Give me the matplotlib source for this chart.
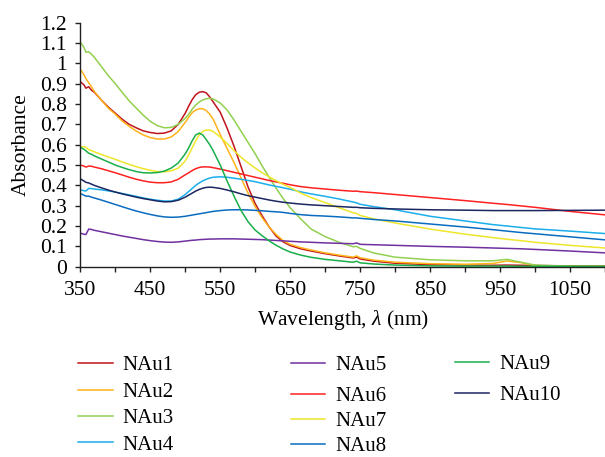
import matplotlib
matplotlib.use("Agg")
import matplotlib.pyplot as plt

plt.rcParams["font.family"] = ["Liberation Serif", "DejaVu Serif"]
plt.rcParams["mathtext.fontset"] = "custom"
plt.rcParams["mathtext.rm"] = "Liberation Serif"
plt.rcParams["mathtext.it"] = "Liberation Serif:italic"

# Wavelength grid (nm)
wavelength = [350, 355, 358, 362, 366, 370, 380, 390, 400, 410, 420, 430, 440, 450,
              460, 470, 480, 490, 500, 505, 510, 515, 520, 525, 530, 535, 540, 550,
              560, 570, 580, 590, 600, 610, 620, 630, 640, 650, 665, 680, 700, 720,
              740, 745, 750, 770, 800, 850, 900, 940, 960, 980, 1000, 1050, 1100]

nau1 = [0.91, 0.895, 0.878, 0.885, 0.868, 0.858, 0.82, 0.785, 0.755, 0.725, 0.70, 0.683,
        0.668, 0.66, 0.655, 0.657, 0.668, 0.70, 0.755, 0.79, 0.822, 0.846, 0.858, 0.861,
        0.855, 0.835, 0.81, 0.76, 0.68, 0.59, 0.49, 0.39, 0.31, 0.25, 0.195, 0.15, 0.122,
        0.104, 0.088, 0.077, 0.064, 0.053, 0.043, 0.047, 0.038, 0.027, 0.017, 0.01, 0.008,
        0.007, 0.008, 0.007, 0.006, 0.004, 0.003]
nau2 = [0.97, 0.945, 0.925, 0.905, 0.885, 0.862, 0.82, 0.78, 0.75, 0.716, 0.69, 0.667,
        0.648, 0.635, 0.628, 0.628, 0.638, 0.665, 0.71, 0.735, 0.758, 0.77, 0.777, 0.777,
        0.768, 0.75, 0.725, 0.65, 0.58, 0.51, 0.435, 0.36, 0.295, 0.24, 0.195, 0.158, 0.128,
        0.11, 0.094, 0.082, 0.068, 0.057, 0.047, 0.053, 0.044, 0.032, 0.022, 0.015, 0.012,
        0.016, 0.028, 0.02, 0.005, 0.003, 0.002]
nau3 = [1.105, 1.08, 1.055, 1.057, 1.045, 1.03, 0.985, 0.94, 0.90, 0.857, 0.815, 0.78,
        0.745, 0.715, 0.694, 0.683, 0.685, 0.70, 0.73, 0.75, 0.775, 0.795, 0.81, 0.82,
        0.826, 0.828, 0.825, 0.805, 0.77, 0.72, 0.665, 0.61, 0.555, 0.495, 0.44, 0.385,
        0.335, 0.29, 0.235, 0.185, 0.148, 0.12, 0.098, 0.1, 0.09, 0.067, 0.047, 0.034,
        0.029, 0.029, 0.036, 0.022, 0.008, 0.002, 0.001]
nau4 = [0.378, 0.374, 0.372, 0.385, 0.384, 0.382, 0.378, 0.373, 0.367, 0.36, 0.353, 0.346,
        0.338, 0.332, 0.327, 0.323, 0.323, 0.332, 0.355, 0.37, 0.385, 0.40, 0.412, 0.422,
        0.43, 0.436, 0.44, 0.442, 0.44, 0.435, 0.43, 0.424, 0.418, 0.41, 0.402, 0.395,
        0.388, 0.381, 0.368, 0.358, 0.346, 0.333, 0.318, 0.314, 0.307, 0.295, 0.28, 0.248,
        0.225, 0.207, 0.2, 0.193, 0.186, 0.175, 0.163]
nau5 = [0.165, 0.16, 0.158, 0.185, 0.183, 0.179, 0.172, 0.165, 0.158, 0.151, 0.145, 0.139,
        0.133, 0.128, 0.124, 0.121, 0.12, 0.122, 0.126, 0.128, 0.13, 0.131, 0.133, 0.134,
        0.135, 0.136, 0.136, 0.137, 0.137, 0.137, 0.136, 0.135, 0.134, 0.133, 0.131, 0.129,
        0.127, 0.125, 0.122, 0.12, 0.117, 0.115, 0.113, 0.117, 0.11, 0.108, 0.105, 0.1,
        0.096, 0.092, 0.09, 0.088, 0.085, 0.077, 0.068]
nau6 = [0.50, 0.495, 0.49, 0.495, 0.494, 0.49, 0.482, 0.472, 0.462, 0.451, 0.44, 0.43,
        0.422, 0.416, 0.413, 0.413, 0.417, 0.43, 0.452, 0.462, 0.473, 0.482, 0.488, 0.491,
        0.491, 0.49, 0.487, 0.48, 0.472, 0.464, 0.456, 0.448, 0.44, 0.432, 0.424, 0.417,
        0.41, 0.403, 0.394, 0.388, 0.382, 0.376, 0.371, 0.372, 0.369, 0.364, 0.355, 0.34,
        0.325, 0.312, 0.306, 0.299, 0.292, 0.272, 0.255]
nau7 = [0.59, 0.59, 0.588, 0.575, 0.571, 0.565, 0.552, 0.54, 0.528, 0.515, 0.503, 0.492,
        0.482, 0.474, 0.468, 0.467, 0.471, 0.485, 0.52, 0.55, 0.585, 0.62, 0.648, 0.665,
        0.672, 0.672, 0.665, 0.638, 0.605, 0.57, 0.537, 0.51, 0.485, 0.462, 0.442, 0.423,
        0.405, 0.39, 0.362, 0.34, 0.315, 0.29, 0.265, 0.262, 0.252, 0.235, 0.215, 0.185,
        0.16, 0.143, 0.135, 0.128, 0.12, 0.105, 0.092]
nau8 = [0.36, 0.352, 0.347, 0.347, 0.342, 0.338, 0.328, 0.317, 0.306, 0.295, 0.284, 0.274,
        0.265, 0.257, 0.25, 0.245, 0.243, 0.244, 0.248, 0.251, 0.254, 0.257, 0.26, 0.263,
        0.266, 0.269, 0.272, 0.276, 0.279, 0.28, 0.28, 0.279, 0.277, 0.275, 0.272, 0.27,
        0.267, 0.262, 0.256, 0.252, 0.249, 0.245, 0.24, 0.24, 0.238, 0.232, 0.225, 0.21,
        0.195, 0.182, 0.175, 0.168, 0.162, 0.147, 0.132]
nau9 = [0.587, 0.578, 0.57, 0.558, 0.553, 0.545, 0.53, 0.515, 0.5, 0.488, 0.477, 0.468,
        0.462, 0.461, 0.463, 0.47, 0.485, 0.51, 0.555, 0.585, 0.62, 0.648, 0.657, 0.648,
        0.625, 0.6, 0.57, 0.50, 0.42, 0.345, 0.275, 0.22, 0.18, 0.152, 0.127, 0.105, 0.087,
        0.072, 0.057, 0.046, 0.036, 0.029, 0.022, 0.027, 0.019, 0.013, 0.008, 0.004, 0.003,
        0.003, 0.003, 0.002, 0.002, 0.002, 0.002]
nau10 = [0.432, 0.422, 0.415, 0.412, 0.406, 0.4, 0.388, 0.377, 0.367, 0.358, 0.35, 0.342,
         0.335, 0.329, 0.323, 0.319, 0.32, 0.327, 0.342, 0.352, 0.362, 0.372, 0.38, 0.386,
         0.39, 0.391, 0.39, 0.385, 0.377, 0.368, 0.358, 0.349, 0.342, 0.335, 0.328, 0.322,
         0.317, 0.313, 0.308, 0.304, 0.3, 0.296, 0.292, 0.292, 0.29, 0.287, 0.284, 0.28,
         0.278, 0.276, 0.276, 0.276, 0.276, 0.277, 0.278]

labels = ["NAu1", "NAu2", "NAu3", "NAu4", "NAu5", "NAu6", "NAu7", "NAu8", "NAu9", "NAu10"]
series = [nau1, nau2, nau3, nau4, nau5, nau6, nau7, nau8, nau9, nau10]
colors = ["#C0141C", "#FFB31A", "#92D050", "#1AAEEA", "#7030A0",
          "#FF2020", "#EDE62A", "#0A6CC0", "#1AAE4A", "#1C2660"]

x_major = [350, 450, 550, 650, 750, 850, 950, 1050]
x_minor = [400, 500, 600, 700, 800, 900, 1000, 1100]
y_ticks = [0, 0.1, 0.2, 0.3, 0.4, 0.5, 0.6, 0.7, 0.8, 0.9, 1.0, 1.1, 1.2]

FS = 15.5
W, H = 605, 457
fig = plt.figure(figsize=(W / 100, H / 100), dpi=100)
ax = fig.add_axes([80.3 / W, 1 - 266.7 / H, (W - 80.3) / W, (266.7 - 22.7) / H])

lines = []
for vals, lab, col in zip(series, labels, colors):
    ln, = ax.plot(wavelength, vals, color=col, lw=1.1, label=lab)
    lines.append(ln)

ax.set_xlim(350, 1100)
ax.set_ylim(0, 1.2)
ax.set_xticks(x_major)
ax.set_xticks(x_minor, minor=True)
ax.set_yticks(y_ticks)
ax.set_yticklabels([f"{v:g}" for v in y_ticks])
for s in ("top", "right"):
    ax.spines[s].set_visible(False)
for s in ("left", "bottom"):
    ax.spines[s].set_linewidth(1.0)
    ax.spines[s].set_color("#222222")
ax.tick_params(axis="both", which="both", direction="out", length=3.6, width=1.0,
               color="#222222", labelsize=FS)
ax.tick_params(axis="x", which="both", pad=6.5)
ax.tick_params(axis="y", which="both", pad=6)
ax.tick_params(axis="x", which="minor", labelbottom=False)

ax.set_xlabel(r"Wavelength, $\lambda$ (nm)", fontsize=FS)
ax.xaxis.set_label_coords(0.5, -0.17)
ax.set_ylabel("Absorbance", fontsize=FS)
ax.yaxis.set_label_coords(-0.094, 0.5)

# Legend entries laid out in three columns below the plot
legend_pos = [(78.3, 365.7), (78.3, 392.0), (78.3, 418.5), (78.3, 445.0),
              (290.7, 365.7), (290.7, 396.0), (290.7, 421.5), (290.7, 446.5),
              (454.8, 364.3), (454.8, 395.7)]
for ln, lab, (px, py) in zip(lines, labels, legend_pos):
    fig.legend(handles=[ln], labels=[lab], loc="center left",
               bbox_to_anchor=(px / W, 1 - py / H), frameon=False, fontsize=15,
               borderpad=0, borderaxespad=0, handlelength=1.65, handletextpad=0.48)

fig.savefig("out.png", dpi=100)
